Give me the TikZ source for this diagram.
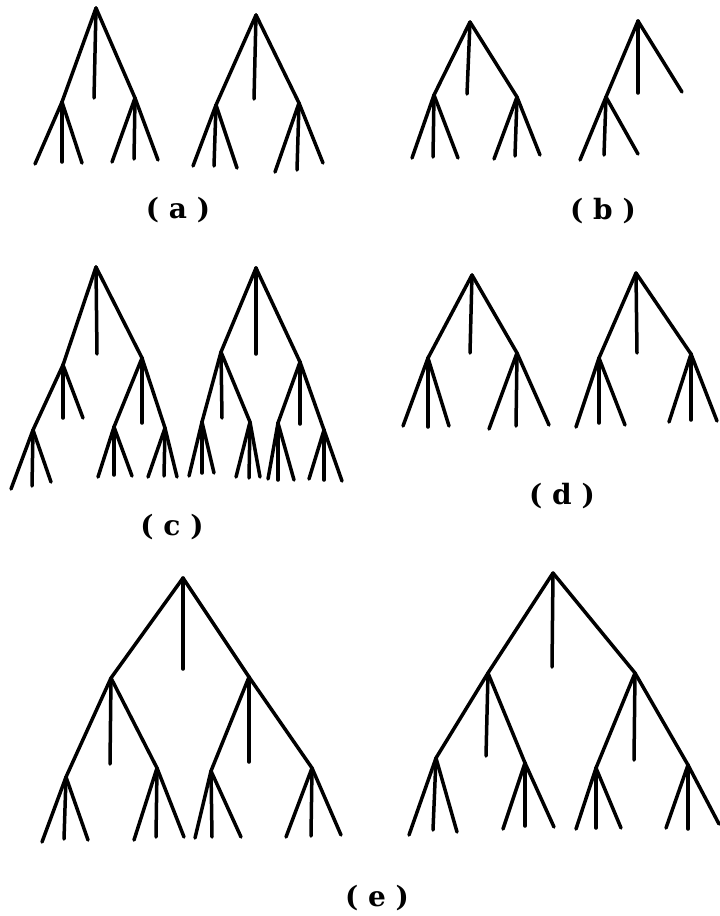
\documentclass[tikz,border=0pt]{standalone}
\usepackage{fontspec}
\setmainfont{DejaVu Serif}
\newcommand\kid[3]{\coordinate (#2) at (#3); \draw[edge] (#1) -- (#2);}
\begin{document}
\begin{tikzpicture}[x=1pt,y=-1pt,
  edge/.style={line width=3.5pt, line cap=round, black},
  lab/.style={font=\fontsize{28}{32}\selectfont\bfseries, inner sep=0pt}]
\useasboundingbox (0,0) rectangle (720,916);
% (a) left
\coordinate (a1r) at (96,8);
\kid{a1r}{a1m}{94,98}\kid{a1r}{a1L}{62,102}\kid{a1r}{a1R}{135,98}
\kid{a1L}{a1La}{35,164}\kid{a1L}{a1Lb}{62,162}\kid{a1L}{a1Lc}{82,163}
\kid{a1R}{a1Ra}{112,162}\kid{a1R}{a1Rb}{134,159}\kid{a1R}{a1Rc}{158,160}
% (a) right
\coordinate (a2r) at (256,15);
\kid{a2r}{a2m}{254,99}\kid{a2r}{a2L}{216,105}\kid{a2r}{a2R}{299,103}
\kid{a2L}{a2La}{193,166}\kid{a2L}{a2Lb}{214,166}\kid{a2L}{a2Lc}{237,168}
\kid{a2R}{a2Ra}{275,172}\kid{a2R}{a2Rb}{297,170}\kid{a2R}{a2Rc}{323,163}
% (b) left
\coordinate (b1r) at (470,22);
\kid{b1r}{b1m}{467,94}\kid{b1r}{b1L}{434,95}\kid{b1r}{b1R}{517,97}
\kid{b1L}{b1La}{412,158}\kid{b1L}{b1Lb}{433,157}\kid{b1L}{b1Lc}{458,158}
\kid{b1R}{b1Ra}{494,159}\kid{b1R}{b1Rb}{515,156}\kid{b1R}{b1Rc}{540,155}
% (b) right
\coordinate (b2r) at (638,21);
\kid{b2r}{b2m}{638,93}\kid{b2r}{b2R}{682,92}\kid{b2r}{b2L}{606,97}
\kid{b2L}{b2La}{580,160}\kid{b2L}{b2Lb}{604,155}\kid{b2L}{b2Lc}{638,154}
% (c) left
\coordinate (c1r) at (96,267);
\kid{c1r}{c1m}{97,354}\kid{c1r}{c1L}{63,365}\kid{c1r}{c1R}{142,358}
\kid{c1L}{c1LL}{33,430}\kid{c1L}{c1Lm}{63,418}\kid{c1L}{c1Lr}{83,418}
\kid{c1LL}{c1LLa}{11,489}\kid{c1LL}{c1LLb}{32,486}\kid{c1LL}{c1LLc}{51,482}
\kid{c1R}{c1RL}{114,427}\kid{c1R}{c1Rm}{142,423}\kid{c1R}{c1RR}{165,428}
\kid{c1RL}{c1RLa}{98,477}\kid{c1RL}{c1RLb}{114,475}\kid{c1RL}{c1RLc}{132,476}
\kid{c1RR}{c1RRa}{148,477}\kid{c1RR}{c1RRb}{164,476}\kid{c1RR}{c1RRc}{177,477}
% (c) right
\coordinate (c2r) at (256,268);
\kid{c2r}{c2m}{256,354}\kid{c2r}{c2L}{221,352}\kid{c2r}{c2R}{300,362}
\kid{c2L}{c2LL}{202,422}\kid{c2L}{c2Lm}{222,418}\kid{c2L}{c2LR}{250,422}
\kid{c2LL}{c2LLa}{189,476}\kid{c2LL}{c2LLb}{202,473}\kid{c2LL}{c2LLc}{214,473}
\kid{c2LR}{c2LRa}{236,477}\kid{c2LR}{c2LRb}{249,478}\kid{c2LR}{c2LRc}{260,477}
\kid{c2R}{c2RL}{278,423}\kid{c2R}{c2Rm}{300,424}\kid{c2R}{c2RR}{324,430}
\kid{c2RL}{c2RLa}{268,479}\kid{c2RL}{c2RLb}{278,480}\kid{c2RL}{c2RLc}{294,480}
\kid{c2RR}{c2RRa}{309,479}\kid{c2RR}{c2RRb}{324,480}\kid{c2RR}{c2RRc}{342,481}
% (d) left
\coordinate (d1r) at (472,275);
\kid{d1r}{d1m}{470,353}\kid{d1r}{d1L}{428,358}\kid{d1r}{d1R}{517,353}
\kid{d1L}{d1La}{403,426}\kid{d1L}{d1Lb}{428,427}\kid{d1L}{d1Lc}{449,426}
\kid{d1R}{d1Ra}{489,429}\kid{d1R}{d1Rb}{516,426}\kid{d1R}{d1Rc}{549,425}
% (d) right
\coordinate (d2r) at (636,273);
\kid{d2r}{d2m}{637,353}\kid{d2r}{d2L}{599,358}\kid{d2r}{d2R}{691,354}
\kid{d2L}{d2La}{576,427}\kid{d2L}{d2Lb}{599,423}\kid{d2L}{d2Lc}{625,425}
\kid{d2R}{d2Ra}{669,422}\kid{d2R}{d2Rb}{691,420}\kid{d2R}{d2Rc}{717,421}
% (e) left
\coordinate (e1r) at (183,578);
\kid{e1r}{e1m}{183,669}\kid{e1r}{e1L}{111,678}\kid{e1r}{e1R}{249,677}
\kid{e1L}{e1LL}{66,777}\kid{e1L}{e1Lm}{110,764}\kid{e1L}{e1LR}{157,768}
\kid{e1LL}{e1LLa}{42,842}\kid{e1LL}{e1LLb}{64,839}\kid{e1LL}{e1LLc}{88,840}
\kid{e1LR}{e1LRa}{134,840}\kid{e1LR}{e1LRb}{156,837}\kid{e1LR}{e1LRc}{184,837}
\kid{e1R}{e1RL}{211,771}\kid{e1R}{e1Rm}{249,762}\kid{e1R}{e1RR}{312,768}
\kid{e1RL}{e1RLa}{195,838}\kid{e1RL}{e1RLb}{212,837}\kid{e1RL}{e1RLc}{241,837}
\kid{e1RR}{e1RRa}{286,837}\kid{e1RR}{e1RRb}{311,836}\kid{e1RR}{e1RRc}{341,835}
% (e) right
\coordinate (e2r) at (553,573);
\kid{e2r}{e2m}{552,667}\kid{e2r}{e2L}{488,673}\kid{e2r}{e2R}{635,673}
\kid{e2L}{e2LL}{436,758}\kid{e2L}{e2Lm}{486,756}\kid{e2L}{e2LR}{525,763}
\kid{e2LL}{e2LLa}{409,835}\kid{e2LL}{e2LLb}{433,830}\kid{e2LL}{e2LLc}{457,832}
\kid{e2LR}{e2LRa}{503,829}\kid{e2LR}{e2LRb}{525,826}\kid{e2LR}{e2LRc}{554,827}
\kid{e2R}{e2RL}{596,768}\kid{e2R}{e2Rm}{634,760}\kid{e2R}{e2RR}{688,765}
\kid{e2RL}{e2RLa}{576,829}\kid{e2RL}{e2RLb}{596,828}\kid{e2RL}{e2RLc}{621,828}
\kid{e2RR}{e2RRa}{666,828}\kid{e2RR}{e2RRb}{688,829}\kid{e2RR}{e2RRc}{719,824}
% labels
\node[lab] (la) at (178,210) {( a )};
\node[lab] (lb) at (603,211) {( b )};
\node[lab] (lc) at (172,527) {( c )};
\node[lab] (ld) at (562,496) {( d )};
\node[lab] (le) at (377,898) {( e )};
\end{tikzpicture}
\end{document}
